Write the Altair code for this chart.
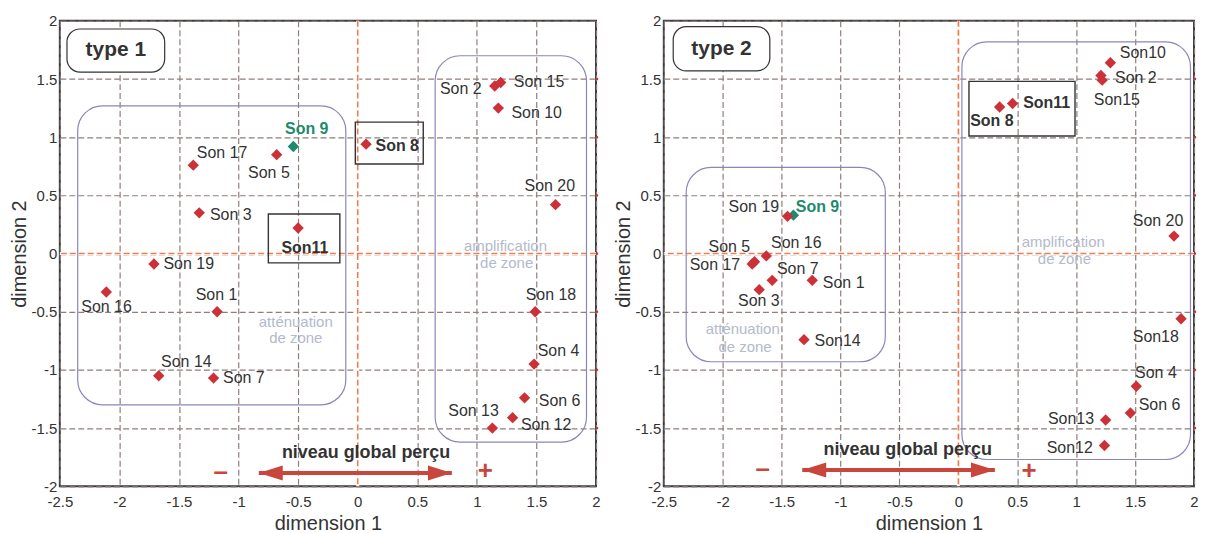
import altair as alt
import pandas as pd

# ---------------- axes ----------------
X_TICKS = [-2.5, -2, -1.5, -1, -0.5, 0, 0.5, 1, 1.5, 2]
Y_TICKS = [-2, -1.5, -1, -0.5, 0, 0.5, 1, 1.5, 2]
EDGE_MARKS = [-1.5, -1, -0.5, 0, 0.5, 1, 1.5]

# ---------------- type 1 ----------------
T1_LABEL = ["Son 1", "Son 2", "Son 3", "Son 4", "Son 5", "Son 6", "Son 7", "Son 8", "Son 9", "Son 10",
            "Son11", "Son 12", "Son 13", "Son 14", "Son 15", "Son 16", "Son 17", "Son 18", "Son 19", "Son 20"]
T1_X = [-1.18, 1.15, -1.33, 1.48, -0.68, 1.40, -1.21, 0.07, -0.54, 1.18,
        -0.50, 1.30, 1.13, -1.67, 1.20, -2.11, -1.38, 1.49, -1.71, 1.66]
T1_Y = [-0.50, 1.44, 0.35, -0.95, 0.85, -1.24, -1.07, 0.94, 0.92, 1.25,
        0.22, -1.41, -1.50, -1.05, 1.47, -0.33, 0.76, -0.50, -0.09, 0.42]
T1_LX = [-1.36, 0.69, -1.24, 1.51, -0.92, 1.52, -1.13, 0.15, -0.61, 1.29,
         -0.64, 1.37, 0.76, -1.65, 1.31, -2.32, -1.35, 1.41, -1.63, 1.40]
T1_LY = [-0.36, 1.41, 0.33, -0.84, 0.69, -1.27, -1.07, 0.92, 1.07, 1.21,
         0.05, -1.47, -1.35, -0.93, 1.47, -0.46, 0.86, -0.36, -0.09, 0.58]
T1_STYLE = ["n", "n", "n", "n", "n", "n", "n", "b", "g", "n",
            "b", "n", "n", "n", "n", "n", "n", "n", "n", "n"]

T1_ZONE_X = [-2.35, 0.65]
T1_ZONE_X2 = [-0.10, 1.92]
T1_ZONE_Y = [1.27, 1.70]
T1_ZONE_Y2 = [-1.30, -1.62]
T1_BOX_X = [-0.02, -0.75]
T1_BOX_X2 = [0.55, -0.15]
T1_BOX_Y = [1.13, 0.34]
T1_BOX_Y2 = [0.77, -0.08]
T1_TAG = ["type 1"]
T1_TAG_BOX = [-2.44, -1.62, 1.93, 1.56]
T1_TAG_POS = [-2.03, 1.745]
T1_ZTXT = ["amplification", "de zone", "atténuation", "de zone"]
T1_ZTXT_X = [1.24, 1.25, -0.52, -0.52]
T1_ZTXT_Y = [0.065, -0.08, -0.59, -0.73]
T1_ARROW = [-0.83, 0.79, -1.886]
T1_SIGNS = ["–", "+"]
T1_SIGN_X = [-1.15, 1.07]
T1_SIGN_Y = [-1.88, -1.87]
T1_LEVEL = ["niveau global perçu"]
T1_LEVEL_POS = [0.07, -1.76]

# ---------------- type 2 ----------------
T2_LABEL = ["Son 1", "Son 2", "Son 3", "Son 4", "Son 5", "Son 6", "Son 7", "Son 8", "Son 9", "Son10",
            "Son11", "Son12", "Son13", "Son14", "Son15", "Son 16", "Son 17", "Son18", "Son 19", "Son 20"]
T2_X = [-1.24, 1.21, -1.69, 1.51, -1.73, 1.46, -1.58, 0.35, -1.40, 1.29,
        0.46, 1.24, 1.25, -1.31, 1.22, -1.63, -1.75, 1.89, -1.45, 1.83]
T2_Y = [-0.23, 1.53, -0.31, -1.14, -0.07, -1.37, -0.23, 1.26, 0.33, 1.64,
        1.29, -1.65, -1.43, -0.74, 1.49, -0.02, -0.09, -0.56, 0.32, 0.15]
T2_LX = [-1.15, 1.33, -1.87, 1.50, -2.12, 1.53, -1.54, 0.10, -1.38, 1.37,
         0.55, 0.75, 0.76, -1.22, 1.15, -1.59, -2.28, 1.48, -1.95, 1.48]
T2_LY = [-0.25, 1.51, -0.41, -1.03, 0.06, -1.30, -0.13, 1.14, 0.40, 1.72,
         1.29, -1.67, -1.42, -0.75, 1.32, 0.09, -0.10, -0.72, 0.40, 0.28]
T2_STYLE = T1_STYLE

T2_ZONE_X = [-2.31, 0.03]
T2_ZONE_X2 = [-0.62, 1.97]
T2_ZONE_Y = [0.74, 1.82]
T2_ZONE_Y2 = [-0.93, -1.77]
T2_BOX_X = [0.09]
T2_BOX_X2 = [0.99]
T2_BOX_Y = [1.48]
T2_BOX_Y2 = [1.01]
T2_TAG = ["type 2"]
T2_TAG_BOX = [-2.42, -1.60, 1.95, 1.57]
T2_TAG_POS = [-2.01, 1.76]
T2_ZTXT = ["amplification", "de zone", "atténuation", "de zone"]
T2_ZTXT_X = [0.89, 0.90, -1.83, -1.81]
T2_ZTXT_Y = [0.10, -0.05, -0.65, -0.80]
T2_ARROW = [-1.325, 0.31, -1.86]
T2_SIGNS = ["–", "+"]
T2_SIGN_X = [-1.66, 0.60]
T2_SIGN_Y = [-1.85, -1.865]
T2_LEVEL = ["niveau global perçu"]
T2_LEVEL_POS = [-0.43, -1.73]

# ---------------- style ----------------
FONT = "Liberation Sans"
RED = "#cc3138"
GREEN = "#1e8a6e"
ARROW_C = "#c8463c"
ZONE_C = "#8c86b8"
ZTXT_C = "#b3bacb"
ZERO_C = "#f27c4c"
INK = "#333333"

XS = alt.Scale(domain=[-2.5, 2], nice=False, zero=False)
YS = alt.Scale(domain=[-2, 2], nice=False, zero=False)
XAX = alt.Axis(title="dimension 1", values=X_TICKS, labelExpr="'' + datum.value")
YAX = alt.Axis(title="dimension 2", values=Y_TICKS, labelExpr="'' + datum.value")


def X(f):
    return alt.X(f, type="quantitative", scale=XS, axis=XAX)


def Y(f):
    return alt.Y(f, type="quantitative", scale=YS, axis=YAX)


def panel(labels, px, py, lx, ly, styles, zx, zx2, zy, zy2, bx, bx2, by, by2,
          tag, tagbox, tagpos, ztxt, ztx, zty, arrow, signs, sx, sy, level, levelpos, width):
    pts = pd.DataFrame({"label": labels, "x": px, "y": py, "lx": lx, "ly": ly, "style": styles})
    zones = pd.DataFrame({"x": zx, "x2": zx2, "y": zy, "y2": zy2})
    boxes = pd.DataFrame({"x": bx, "x2": bx2, "y": by, "y2": by2})
    tagb = pd.DataFrame({"x": [tagbox[0]], "x2": [tagbox[1]], "y": [tagbox[2]], "y2": [tagbox[3]],
                         "tx": [tagpos[0]], "ty": [tagpos[1]], "t": tag})
    zt = pd.DataFrame({"t": ztxt, "x": ztx, "y": zty})
    arr = pd.DataFrame({"x": [arrow[0]], "x2": [arrow[1]], "y": [arrow[2]]})
    sg = pd.DataFrame({"t": signs, "x": sx, "y": sy})
    lv = pd.DataFrame({"t": level, "x": [levelpos[0]], "y": [levelpos[1]]})
    zero = pd.DataFrame({"v": [0]})
    edge = pd.DataFrame({"x": [2] * len(EDGE_MARKS), "y": EDGE_MARKS})

    layers = [
        alt.Chart(zero).mark_rule(color="white", strokeWidth=3).encode(x=X("v")),
        alt.Chart(zero).mark_rule(color="white", strokeWidth=3).encode(y=Y("v")),
        alt.Chart(zero).mark_rule(color=ZERO_C, strokeDash=[6, 3], strokeWidth=1.6).encode(x=X("v")),
        alt.Chart(zero).mark_rule(color=ZERO_C, strokeDash=[6, 3], strokeWidth=1.6).encode(y=Y("v")),
        alt.Chart(edge).mark_square(color=RED, size=5, opacity=1, xOffset=1).encode(x=X("x"), y=Y("y")),
        alt.Chart(zones).mark_rect(cornerRadius=25, fill="white", fillOpacity=0, stroke=ZONE_C,
                                   strokeWidth=1.2).encode(x=X("x"), x2="x2", y=Y("y"), y2="y2"),
        alt.Chart(boxes).mark_rect(fill="white", fillOpacity=0, stroke=INK,
                                   strokeWidth=1.4).encode(x=X("x"), x2="x2", y=Y("y"), y2="y2"),
        alt.Chart(tagb).mark_rect(cornerRadius=13, fill="white", stroke=INK,
                                  strokeWidth=1.2).encode(x=X("x"), x2="x2", y=Y("y"), y2="y2"),
        alt.Chart(tagb).mark_text(font=FONT, fontSize=21, fontWeight="bold", color=INK,
                                  baseline="middle").encode(x=X("tx"), y=Y("ty"), text="t:N"),
        alt.Chart(zt).mark_text(font=FONT, fontSize=15, color=ZTXT_C,
                                baseline="middle").encode(x=X("x"), y=Y("y"), text="t:N"),
        alt.Chart(arr).mark_rule(color=ARROW_C, strokeWidth=4).encode(x=X("x"), x2="x2", y=Y("y")),
        alt.Chart(arr).mark_point(shape="M0,0L2,-0.62L2,0.62Z", size=576, filled=True, opacity=1,
                                  color=ARROW_C).encode(x=X("x"), y=Y("y")),
        alt.Chart(arr).mark_point(shape="M0,0L-2,-0.62L-2,0.62Z", size=576, filled=True, opacity=1,
                                  color=ARROW_C).encode(x=X("x2"), y=Y("y")),
        alt.Chart(sg).mark_text(font=FONT, fontSize=26, fontWeight="bold", color=ARROW_C,
                                baseline="middle").encode(x=X("x"), y=Y("y"), text="t:N"),
        alt.Chart(lv).mark_text(font=FONT, fontSize=18, fontWeight="bold", color=INK,
                                baseline="alphabetic").encode(x=X("x"), y=Y("y"), text="t:N"),
        alt.Chart(pts).mark_point(shape="diamond", filled=True, size=130, opacity=1).encode(
            x=X("x"), y=Y("y"),
            color=alt.Color("style:N", scale=alt.Scale(domain=["n", "b", "g"], range=[RED, RED, GREEN]),
                            legend=None)),
        alt.Chart(pts).transform_filter("datum.style == 'n'").mark_text(
            font=FONT, fontSize=16, color=INK, align="left", baseline="middle").encode(
            x=X("lx"), y=Y("ly"), text="label:N"),
        alt.Chart(pts).transform_filter("datum.style == 'b'").mark_text(
            font=FONT, fontSize=16, fontWeight="bold", color=INK, align="left", baseline="middle").encode(
            x=X("lx"), y=Y("ly"), text="label:N"),
        alt.Chart(pts).transform_filter("datum.style == 'g'").mark_text(
            font=FONT, fontSize=16, fontWeight="bold", color=GREEN, align="left", baseline="middle").encode(
            x=X("lx"), y=Y("ly"), text="label:N"),
    ]
    return alt.layer(*layers).properties(width=width, height=467)


p1 = panel(T1_LABEL, T1_X, T1_Y, T1_LX, T1_LY, T1_STYLE, T1_ZONE_X, T1_ZONE_X2, T1_ZONE_Y, T1_ZONE_Y2,
           T1_BOX_X, T1_BOX_X2, T1_BOX_Y, T1_BOX_Y2, T1_TAG, T1_TAG_BOX, T1_TAG_POS,
           T1_ZTXT, T1_ZTXT_X, T1_ZTXT_Y, T1_ARROW, T1_SIGNS, T1_SIGN_X, T1_SIGN_Y,
           T1_LEVEL, T1_LEVEL_POS, 538)
p2 = panel(T2_LABEL, T2_X, T2_Y, T2_LX, T2_LY, T2_STYLE, T2_ZONE_X, T2_ZONE_X2, T2_ZONE_Y, T2_ZONE_Y2,
           T2_BOX_X, T2_BOX_X2, T2_BOX_Y, T2_BOX_Y2, T2_TAG, T2_TAG_BOX, T2_TAG_POS,
           T2_ZTXT, T2_ZTXT_X, T2_ZTXT_Y, T2_ARROW, T2_SIGNS, T2_SIGN_X, T2_SIGN_Y,
           T2_LEVEL, T2_LEVEL_POS, 532)

chart = alt.hconcat(p1, p2, spacing=10).properties(
    padding={"left": 0, "top": 4, "right": 0, "bottom": 0}
).configure_view(
    stroke="#3c3c3c", strokeWidth=2
).configure_axis(
    labelFont=FONT, labelFontSize=15, labelColor=INK,
    titleFont=FONT, titleFontSize=20, titleFontWeight="normal", titleColor=INK,
    grid=True, gridColor="#8e7f7b", gridDash=[6, 3], gridWidth=1.2, gridOpacity=1,
    domain=False, ticks=False
).configure_axisX(
    labelFlush=False, labelPadding=8, titlePadding=4
).configure_axisY(
    labelPadding=3, titlePadding=2
)

chart.save("out.html", embed_options={"renderer": "svg", "actions": False})
